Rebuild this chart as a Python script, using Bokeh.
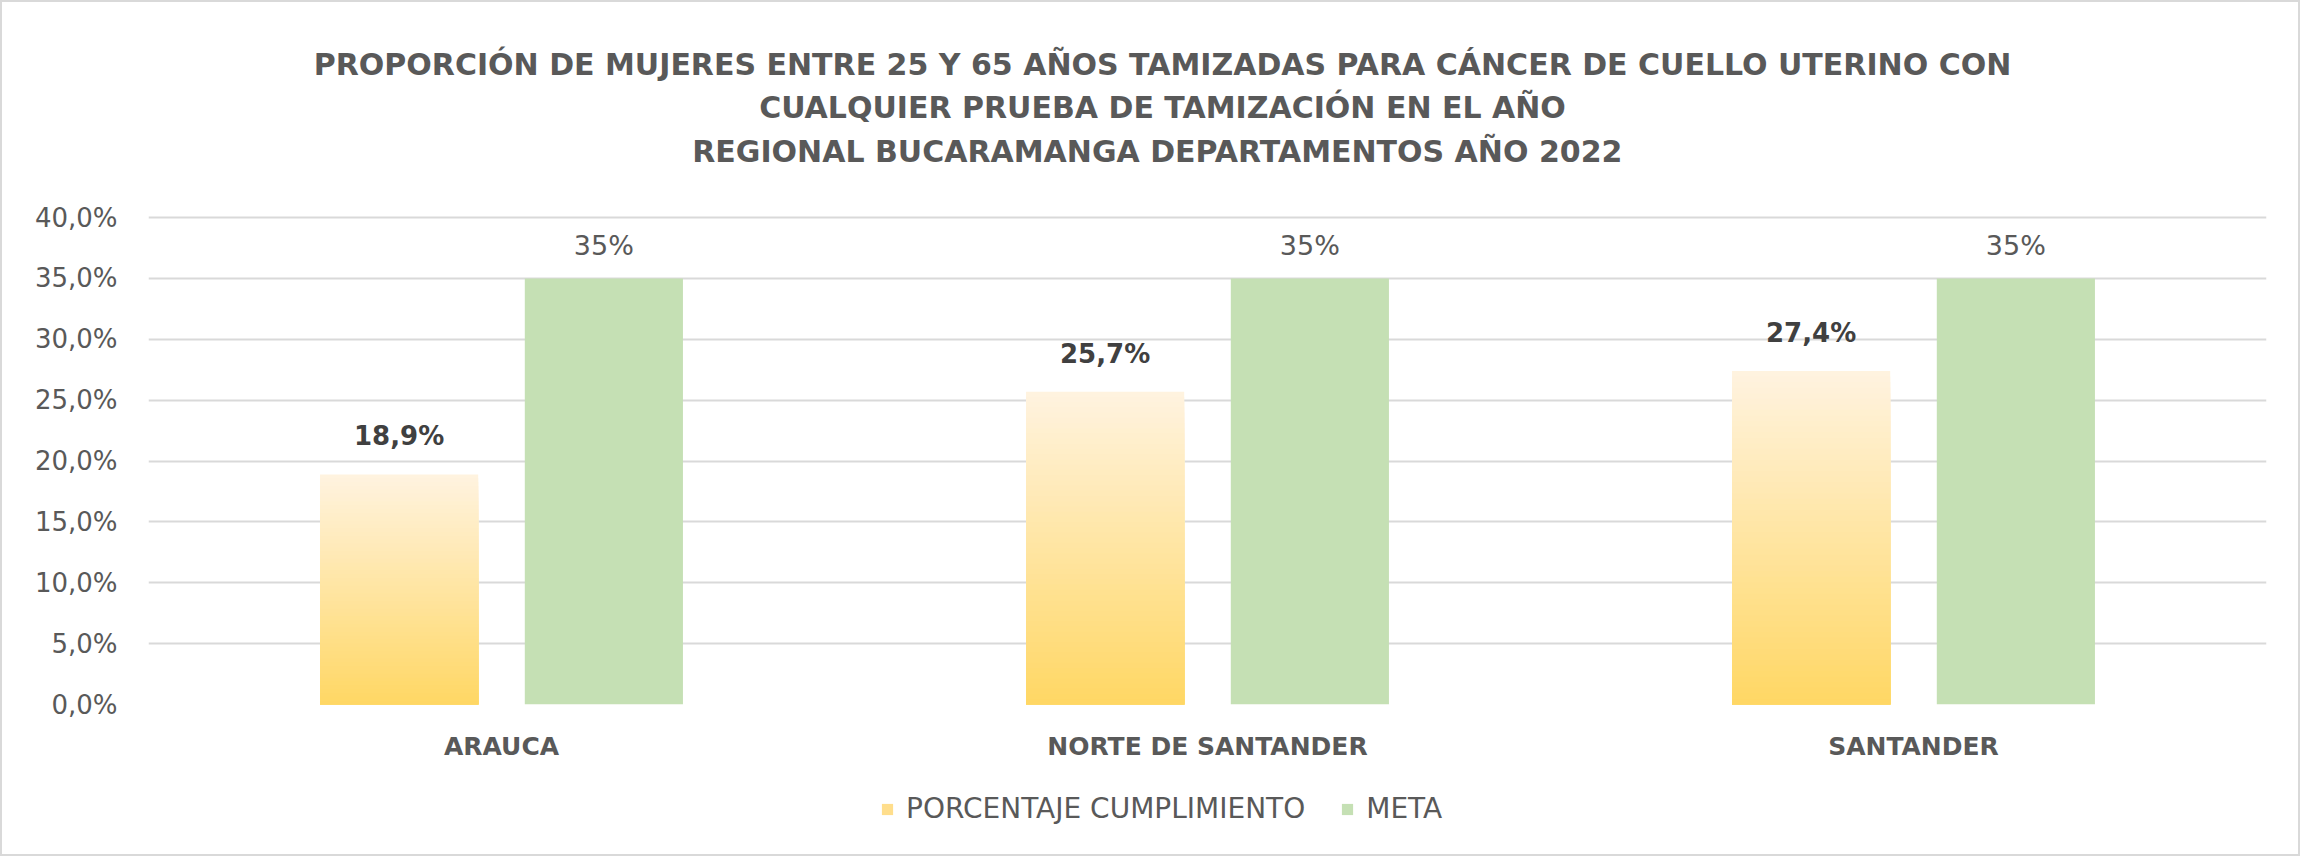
from bokeh.plotting import figure
from bokeh.layouts import column
from bokeh.models import (FactorRange, Range1d, FixedTicker, ColumnDataSource,
                          LabelSet, Label, Legend, LegendItem)
from bokeh.core.properties import value
from bokeh.transform import dodge
from bokeh.embed import file_html
from bokeh.resources import INLINE

# ---------------- data ----------------
categories = ["ARAUCA", "NORTE DE SANTANDER", "SANTANDER"]
series_names = ["PORCENTAJE CUMPLIMIENTO", "META"]
cumplimiento = [18.9, 25.7, 27.4]          # percent
meta = [35, 35, 35]                        # percent
cumplimiento_labels = ["18,9%", "25,7%", "27,4%"]
meta_labels = ["35%", "35%", "35%"]
y_ticks = [0, 5, 10, 15, 20, 25, 30, 35, 40]
y_tick_labels = ["0,0%", "5,0%", "10,0%", "15,0%", "20,0%", "25,0%", "30,0%", "35,0%", "40,0%"]
title_lines = [
    "PROPORCIÓN DE MUJERES ENTRE 25 Y 65 AÑOS TAMIZADAS PARA CÁNCER DE CUELLO UTERINO CON",
    "CUALQUIER PRUEBA DE TAMIZACIÓN EN EL AÑO",
    "REGIONAL BUCARAMANGA  DEPARTAMENTOS AÑO 2022",
]

# ---------------- style ----------------
FONT = "DejaVu Sans"
GRAY = "#595959"
DARK = "#404040"
GRID = "#D9D9D9"
GREEN = "#C5E0B4"
LEG_YELLOW = "#FFDE8C"
GRAD_TOP = (0xFF, 0xF3, 0xE0)
GRAD_BOT = (0xFF, 0xD7, 0x64)
OFF = 0.145
BAR_W = 0.224
N_SLICES = 60
W = 2296                      # inside a 2px border -> 2300
H_TITLE, H_MAIN, H_LEG = 198, 570, 84
BL, BR = 146, 32              # left / right borders shared by all strips
X0, X1 = 148, 2266            # page-pixel extent of the plotting frame


def strip(h):
    f = figure(width=W, height=h, x_range=Range1d(X0, X1), y_range=Range1d(0, h),
               x_axis_location=None, y_axis_location=None,
               min_border_left=BL, min_border_right=BR,
               min_border_top=0, min_border_bottom=0,
               output_backend="svg", toolbar_location=None)
    f.outline_line_color = None
    f.background_fill_color = "white"
    f.border_fill_color = "white"
    f.grid.visible = False
    return f


# ---------------- title strip ----------------
pt = strip(H_TITLE)
for txt, yy in zip(title_lines, [62, 104.5, 148.5]):
    pt.add_layout(Label(x=1162, y=H_TITLE - yy, text=txt, text_align="center",
                        text_baseline="middle", text_font=FONT, text_font_size="30px",
                        text_font_style="bold", text_color=GRAY))

# ---------------- main chart ----------------
p = figure(x_range=FactorRange(*categories, range_padding=0),
           y_range=Range1d(0, 40.25),
           width=W, height=H_MAIN,
           output_backend="svg", toolbar_location=None,
           min_border_left=BL, min_border_right=BR,
           min_border_top=14, min_border_bottom=66)
p.title = None
p.outline_line_color = None
p.background_fill_color = "white"
p.border_fill_color = "white"

p.xgrid.grid_line_color = None
p.ygrid.ticker = FixedTicker(ticks=y_ticks)
p.ygrid.grid_line_color = GRID
p.ygrid.grid_line_width = 2

p.yaxis.ticker = FixedTicker(ticks=y_ticks)
p.yaxis.major_label_overrides = {t: s for t, s in zip(y_ticks, y_tick_labels)}
p.yaxis.axis_line_color = None
p.yaxis.major_tick_line_color = None
p.yaxis.minor_tick_line_color = None
p.yaxis.major_label_standoff = 25
p.yaxis.major_label_text_font = FONT
p.yaxis.major_label_text_font_size = "26px"
p.yaxis.major_label_text_color = GRAY

p.xaxis.axis_line_color = None
p.xaxis.major_tick_line_color = None
p.xaxis.minor_tick_line_color = None
p.xaxis.major_label_standoff = 21
p.xaxis.major_label_text_font = FONT
p.xaxis.major_label_text_font_size = "25px"
p.xaxis.major_label_text_font_style = "bold"
p.xaxis.major_label_text_color = GRAY

# gradient bars for cumplimiento (overlapping slices, drawn tallest first)
g_cat, g_top, g_col = [], [], []
for c, v in zip(categories, cumplimiento):
    for k in range(N_SLICES):
        frac = (N_SLICES - k) / N_SLICES
        t = (N_SLICES - k - 0.5) / N_SLICES
        rgb = tuple(int(round(b + (a - b) * t)) for a, b in zip(GRAD_TOP, GRAD_BOT))
        g_cat.append(c)
        g_top.append(v * frac)
        g_col.append("#%02X%02X%02X" % rgb)
grad_src = ColumnDataSource(dict(cat=g_cat, top=g_top, color=g_col))
p.vbar(x=dodge("cat", -OFF, range=p.x_range), top="top", bottom=0,
       width=BAR_W, fill_color="color", line_color=None, source=grad_src)

src = ColumnDataSource(dict(cat=categories, cumpl=cumplimiento, meta=meta,
                            cl=cumplimiento_labels, ml=meta_labels))
p.vbar(x=dodge("cat", OFF, range=p.x_range), top="meta", bottom=0,
       width=BAR_W, fill_color=GREEN, line_color=None, source=src)

p.add_layout(LabelSet(x=dodge("cat", -OFF, range=p.x_range), y="cumpl", text="cl",
                      source=src, text_align="center", text_baseline="alphabetic",
                      y_offset=29, text_font=value(FONT), text_font_size=value("26px"),
                      text_font_style="bold", text_color=DARK))
p.add_layout(LabelSet(x=dodge("cat", OFF, range=p.x_range), y="meta", text="ml",
                      source=src, text_align="center", text_baseline="alphabetic",
                      y_offset=23, text_font=value(FONT), text_font_size=value("27px"),
                      text_color=GRAY))

# ---------------- legend strip ----------------
pl = strip(H_LEG)
# hidden zero-height swatch renderers (legend keys only)
r_y = pl.vbar(x=[X0], top=[0], width=1, fill_color=LEG_YELLOW, line_color=None, visible=False)
r_g = pl.vbar(x=[X0], top=[0], width=1, fill_color=GREEN, line_color=None, visible=False)
legend = Legend(items=[LegendItem(label=series_names[0], renderers=[r_y]),
                       LegendItem(label=series_names[1], renderers=[r_g])],
                orientation="horizontal", location=(880 - X0, 29),
                label_text_font=FONT, label_text_font_size="28px",
                label_text_color=GRAY, glyph_width=14, glyph_height=14,
                label_standoff=12, spacing=35, border_line_color=None,
                background_fill_alpha=0, margin=0, padding=0)
pl.add_layout(legend)

layout = column(pt, p, pl, spacing=0,
                styles={"border": "2px solid #D9D9D9"})

open("out.html", "w").write(file_html(layout, INLINE))
